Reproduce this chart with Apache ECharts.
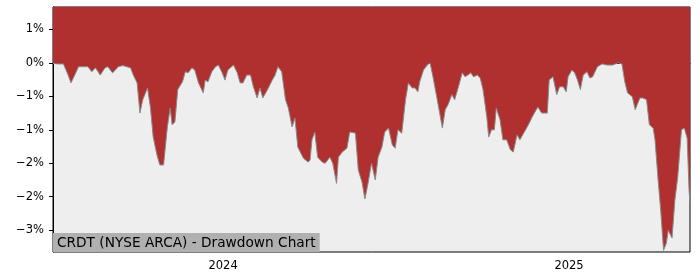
<!DOCTYPE html>
<html>
<head>
<meta charset="utf-8">
<script src="https://cdn.jsdelivr.net/npm/echarts@6/dist/echarts.min.js"></script>
<style>html,body{margin:0;padding:0;background:#fff}#c{width:700px;height:280px}</style>
</head>
<body>
<div id="c"></div>
<script>
const dates = ['2023-07-05','2023-07-10','2023-07-16','2023-07-18','2023-07-21','2023-07-24','2023-07-28','2023-08-01','2023-08-06','2023-08-11','2023-08-15','2023-08-19','2023-08-24','2023-08-29','2023-09-01','2023-09-06','2023-09-09','2023-09-12','2023-09-17','2023-09-21','2023-09-25','2023-09-28','2023-10-02','2023-10-05','2023-10-08','2023-10-13','2023-10-16','2023-10-19','2023-10-23','2023-10-26','2023-10-30','2023-11-03','2023-11-06','2023-11-08','2023-11-11','2023-11-14','2023-11-19','2023-11-22','2023-11-25','2023-11-29','2023-12-02','2023-12-06','2023-12-11','2023-12-13','2023-12-16','2023-12-20','2023-12-24','2023-12-27','2023-12-31','2024-01-03','2024-01-06','2024-01-12','2024-01-16','2024-01-19','2024-01-22','2024-01-26','2024-01-30','2024-02-02','2024-02-06','2024-02-09','2024-02-12','2024-02-17','2024-02-22','2024-02-25','2024-02-28','2024-03-03','2024-03-07','2024-03-10','2024-03-14','2024-03-17','2024-03-20','2024-03-26','2024-03-31','2024-04-02','2024-04-04','2024-04-07','2024-04-10','2024-04-15','2024-04-18','2024-04-23','2024-04-26','2024-04-30','2024-05-02','2024-05-06','2024-05-11','2024-05-14','2024-05-20','2024-05-23','2024-05-27','2024-05-30','2024-06-02','2024-06-06','2024-06-10','2024-06-13','2024-06-17','2024-06-20','2024-06-24','2024-06-28','2024-07-01','2024-07-04','2024-07-08','2024-07-12','2024-07-15','2024-07-19','2024-07-22','2024-07-25','2024-07-27','2024-07-31','2024-08-04','2024-08-07','2024-08-10','2024-08-14','2024-08-20','2024-08-23','2024-08-26','2024-08-30','2024-09-02','2024-09-06','2024-09-10','2024-09-13','2024-09-16','2024-09-19','2024-09-22','2024-09-26','2024-09-29','2024-10-02','2024-10-06','2024-10-08','2024-10-11','2024-10-14','2024-10-16','2024-10-20','2024-10-23','2024-10-27','2024-10-31','2024-11-03','2024-11-07','2024-11-10','2024-11-13','2024-11-19','2024-11-23','2024-11-26','2024-11-29','2024-12-03','2024-12-09','2024-12-11','2024-12-15','2024-12-19','2024-12-22','2024-12-26','2024-12-29','2024-12-31','2025-01-04','2025-01-07','2025-01-10','2025-01-13','2025-01-16','2025-01-20','2025-01-23','2025-01-26','2025-01-31','2025-02-05','2025-02-10','2025-02-16','2025-02-22','2025-02-26','2025-03-01','2025-03-04','2025-03-09','2025-03-12','2025-03-14','2025-03-17','2025-03-20','2025-03-24','2025-03-27','2025-03-31','2025-04-02','2025-04-05','2025-04-08','2025-04-11','2025-04-14','2025-04-16','2025-04-20','2025-04-23','2025-04-26','2025-04-30','2025-05-03','2025-05-06','2025-05-08','2025-05-09'];
const drawdown = [-0.01,-0.02,-0.02,-0.04,-0.22,-0.36,-0.22,-0.07,-0.07,-0.07,-0.16,-0.09,-0.22,-0.09,-0.07,-0.18,-0.13,-0.07,-0.05,-0.07,-0.09,-0.22,-0.36,-0.90,-0.66,-0.45,-0.79,-1.33,-1.65,-1.83,-1.83,-1.15,-0.81,-1.11,-1.06,-0.48,-0.34,-0.16,-0.18,-0.09,-0.13,-0.36,-0.54,-0.31,-0.34,-0.16,-0.07,-0.04,-0.18,-0.31,-0.13,-0.04,-0.18,-0.36,-0.36,-0.22,-0.22,-0.43,-0.63,-0.45,-0.63,-0.48,-0.31,-0.22,-0.07,-0.16,-0.66,-0.81,-1.15,-0.99,-1.51,-1.71,-1.78,-1.74,-1.38,-1.24,-1.69,-1.78,-1.80,-1.69,-1.80,-2.16,-1.69,-1.60,-1.53,-1.24,-1.26,-1.92,-2.14,-2.44,-2.19,-1.80,-2.10,-1.69,-1.51,-1.24,-1.17,-1.47,-1.53,-1.20,-1.26,-0.66,-0.36,-0.45,-0.45,-0.52,-0.34,-0.13,-0.04,0,-0.25,-0.61,-1.17,-0.84,-0.75,-0.57,-0.66,-0.43,-0.18,-0.25,-0.22,-0.18,-0.25,-0.22,-0.27,-0.48,-0.97,-1.33,-1.20,-1.20,-0.81,-1.02,-1.38,-1.38,-1.56,-1.60,-1.29,-1.38,-1.29,-1.11,-0.97,-0.88,-0.79,-0.90,-0.90,-0.31,-0.25,-0.57,-0.43,-0.43,-0.52,-0.25,-0.13,-0.18,-0.31,-0.48,-0.22,-0.16,-0.27,-0.25,-0.07,-0.02,-0.04,-0.04,0,-0.02,-0.34,-0.54,-0.61,-0.84,-0.84,-0.63,-0.63,-0.66,-1.11,-1.17,-1.38,-2.05,-2.64,-3.36,-3.23,-3.00,-3.14,-2.46,-2.05,-1.20,-1.17,-1.35,-2.28,-2.51];
const yTicks = [0.6, 0, -0.6, -1.2, -1.8, -2.4, -3.0];
const yTickLabels = ['1%', '0%', '\u22121%', '\u22121%', '\u22122%', '\u22122%', '\u22123%'];
const xTicks = ['2024-01-01', '2025-01-01'];
const xTickLabels = ['2024', '2025'];
const titleText = 'CRDT (NYSE ARCA) - Drawdown Chart';

function localTs(s) { const p = s.split('-').map(Number); return new Date(p[0], p[1] - 1, p[2]).getTime(); }
const xTickTs = xTicks.map(localTs);
const dateTs = dates.map(localTs);
const seriesData = dateTs.map((t, i) => [t, drawdown[i]]);

const chart = echarts.init(document.getElementById('c'), null, { renderer: 'canvas' });
const font = 'DejaVu Sans';
chart.setOption({
  animation: false,
  backgroundColor: '#ffffff',
  textStyle: { fontFamily: font },
  title: {
    text: titleText,
    left: 53, bottom: 28,
    padding: [3, 4, 2, 4],
    backgroundColor: '#b0b0b0',
    textStyle: { fontFamily: font, fontSize: 13.7, fontWeight: 'normal', color: '#000' }
  },
  grid: {
    left: 53, right: 10, top: 7, bottom: 28,
    show: true, backgroundColor: '#eeeeee', borderColor: '#000', borderWidth: 1
  },
  xAxis: {
    type: 'value',
    min: dateTs[0], max: dateTs[dateTs.length - 1],
    axisLine: { show: true, lineStyle: { color: '#000', width: 1 } },
    axisTick: { show: true, customValues: xTickTs, length: 4, lineStyle: { color: '#000' } },
    axisLabel: {
      customValues: xTickTs, margin: 8, color: '#000', fontFamily: font, fontSize: 11.5,
      formatter: v => { const i = xTickTs.findIndex(t => Math.abs(t - v) < 86400000); return i >= 0 ? xTickLabels[i] : ''; }
    },
    splitLine: { show: false }
  },
  yAxis: {
    type: 'value',
    min: -3.39, max: 1.0,
    axisLine: { show: true, lineStyle: { color: '#000', width: 1 } },
    axisTick: { show: true, customValues: yTicks, length: 4, lineStyle: { color: '#000' } },
    axisLabel: {
      customValues: yTicks, margin: 9, color: '#000', fontFamily: font, fontSize: 11.5,
      formatter: v => { const i = yTicks.findIndex(t => Math.abs(t - v) < 1e-6); return i >= 0 ? yTickLabels[i] : ''; }
    },
    splitLine: { show: false }
  },
  series: [{
    type: 'line',
    data: seriesData,
    symbol: 'none',
    lineStyle: { color: '#8a8a8a', width: 1 },
    areaStyle: { color: '#b03030', opacity: 1, origin: 'end' },
    z: 2
  }]
});
</script>
</body>
</html>
